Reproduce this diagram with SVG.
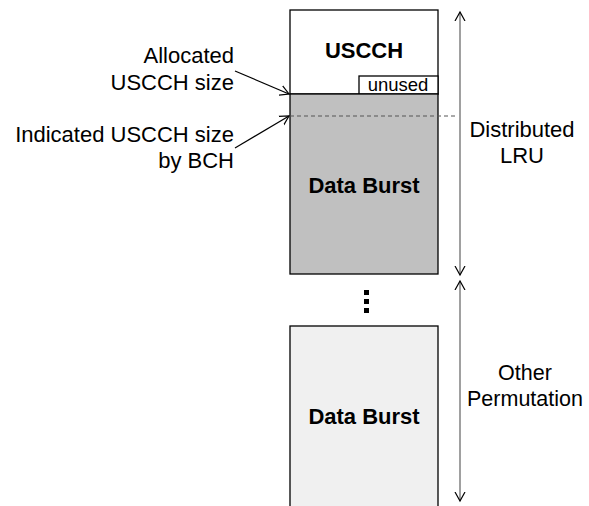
<svg xmlns="http://www.w3.org/2000/svg" width="589" height="506" viewBox="0 0 589 506">
<style>
text{font-family:"Liberation Sans",Arial,sans-serif;fill:#000}
.lbl{font-size:22px}
.b{font-size:22px;font-weight:bold;text-anchor:middle}
.r{text-anchor:end}
.m{text-anchor:middle}
.box{stroke:#000;stroke-width:1.3}
.dim{stroke:#808080;stroke-width:1.5;fill:none}
</style>
<defs>
<marker id="ah" markerWidth="12" markerHeight="12" refX="9" refY="5" orient="auto-start-reverse" markerUnits="userSpaceOnUse" viewBox="0 0 12 10">
<path d="M0,0 L9,5 L0,10" fill="none" stroke="#000" stroke-width="1.2"/>
</marker>
</defs>
<g id="uscch">
<rect class="box" x="290" y="10" width="148" height="84" fill="#fff"/>
<text class="b" x="364" y="58">USCCH</text>
</g>
<g id="unused">
<rect class="box" x="359" y="76" width="79" height="18" fill="#fff"/>
<text class="m" x="398" y="91" style="font-size:18.5px">unused</text>
</g>
<g id="burst1">
<rect class="box" x="290" y="94" width="148" height="180" fill="#c0c0c0"/>
<text class="b" x="364" y="193">Data Burst</text>
</g>
<g id="dots">
<rect x="364" y="290" width="5" height="5" fill="#000"/>
<rect x="364" y="299" width="5" height="5" fill="#000"/>
<rect x="364" y="308" width="5" height="5" fill="#000"/>
</g>
<g id="burst2">
<rect class="box" x="290" y="326" width="148" height="190" fill="#f0f0f0"/>
<text class="b" x="364" y="424">Data Burst</text>
</g>
<g id="labels">
<text class="lbl r" x="234" y="63">Allocated</text>
<text class="lbl r" x="234" y="90">USCCH size</text>
<text class="lbl r" x="234" y="142">Indicated USCCH size</text>
<text class="lbl r" x="234" y="168">by BCH</text>
<text class="lbl m" x="522" y="137">Distributed</text>
<text class="lbl m" x="522" y="163">LRU</text>
<text class="m" x="525" y="380" style="font-size:21.5px">Other</text>
<text class="m" x="525" y="406" style="font-size:21.5px">Permutation</text>
</g>
<g id="connectors">
<line x1="290" y1="116" x2="455" y2="116" stroke="#555" stroke-width="1" stroke-dasharray="4,3"/>
<line x1="235" y1="71" x2="289" y2="94" stroke="#000" stroke-width="1.2" marker-end="url(#ah)"/>
<line x1="235" y1="148" x2="289" y2="116" stroke="#000" stroke-width="1.2" marker-end="url(#ah)"/>
<line class="dim" x1="460" y1="12" x2="460" y2="275" marker-start="url(#ah)" marker-end="url(#ah)"/>
<line class="dim" x1="460" y1="281" x2="460" y2="501" marker-start="url(#ah)" marker-end="url(#ah)"/>
</g>
</svg>
